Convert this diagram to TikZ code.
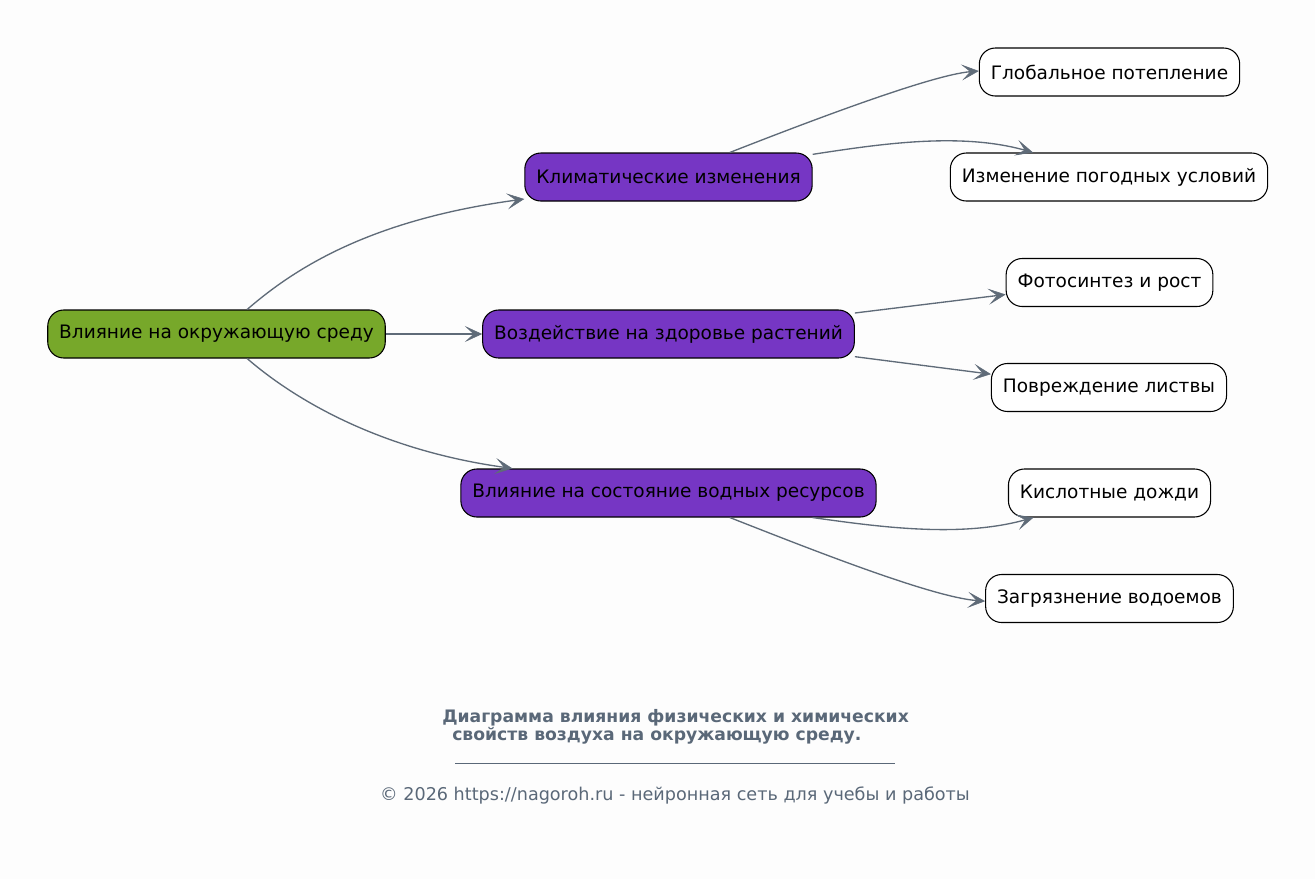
\documentclass[tikz,border=0pt]{standalone}
\usepackage{fontspec}
\setmainfont{DejaVu Sans}
\usetikzlibrary{arrows.meta,calc}
\definecolor{bg}{HTML}{FDFDFD}
\definecolor{rootc}{HTML}{77A82A}
\definecolor{midc}{HTML}{7636C4}
\definecolor{edgec}{HTML}{5F6B78}
\definecolor{titlec}{HTML}{5A6878}
\tikzset{myhead/.tip={Stealth[length=13pt,width=12pt,inset=6.5pt,line width=0.4pt]}}
\begin{document}
\begin{tikzpicture}[x=0.75pt,y=-0.75pt,
  box/.style={draw=black,line width=0.8pt,rounded corners=12pt,minimum height=36pt,inner xsep=8.6pt,font=\fontsize{13.9pt}{16pt}\selectfont,text=black},
  rootbox/.style={box,fill=rootc},
  midbox/.style={box,fill=midc},
  leafbox/.style={box,fill=white},
  conn/.style={draw=edgec,line width=1pt,-myhead}]
\fill[bg] (0,0) rectangle (1315,879);
\useasboundingbox (0,0) rectangle (1315,879);
\node[rootbox] (root) at (216.5,334) {Влияние на окружающую среду};
\node[midbox] (klim) at (668.5,177) {Климатические изменения};
\node[midbox] (vozd) at (668.5,334) {Воздействие на здоровье растений};
\node[midbox] (vod) at (668.5,493) {Влияние на состояние водных ресурсов};
\node[leafbox] (glob) at (1109.5,72) {Глобальное потепление};
\node[leafbox] (pogod) at (1109,177) {Изменение погодных условий};
\node[leafbox] (foto) at (1109.5,282.5) {Фотосинтез и рост};
\node[leafbox] (povr) at (1109,387.5) {Повреждение листвы};
\node[leafbox] (kisl) at (1109.5,493) {Кислотные дожди};
\node[leafbox] (zagr) at (1109.5,598.5) {Загрязнение водоемов};
% connectors
\draw[conn] ([xshift=23pt]root.north) .. controls (295,268) and (370,220) .. (klim.west |- 0,199);
\draw[conn] (root.east) -- (vozd.west);
\draw[conn] ([xshift=23pt]root.south) .. controls (295,400) and (380,450) .. ([xshift=-117pt]vod.north);
\draw[conn] ([xshift=46pt]klim.north) .. controls (800,125) and (930,75) .. ([yshift=0.75pt]glob.west);
\draw[conn] ([yshift=17pt]klim.east) .. controls (880,144) and (960,132) .. ([xshift=-57pt]pogod.north);
\draw[conn] ([yshift=15.75pt]vozd.east) -- ([yshift=-9pt]foto.west);
\draw[conn] ([yshift=-17pt]vozd.east) -- ([yshift=10pt]povr.west);
\draw[conn] ([xshift=108pt]vod.south) .. controls (880,527) and (960,538) .. ([xshift=-57pt]kisl.south);
\draw[conn] ([xshift=46pt]vod.south) .. controls (800,545) and (930,597) .. ([yshift=-2pt]zagr.west);
% caption
\node[font=\bfseries\fontsize{12.9pt}{14pt}\selectfont,text=titlec,anchor=west,inner xsep=0pt] (t1) at (442,718) {Диаграмма влияния физических и химических};
\node[font=\bfseries\fontsize{12.9pt}{14pt}\selectfont,text=titlec,anchor=west,inner xsep=0pt] (t2) at (452,736) {свойств воздуха на окружающую среду.};
\coordinate (r1) at (455,763);
\coordinate (r2) at (895,763);
\draw[titlec,line width=0.5pt] (r1) -- (r2);
\node[font=\fontsize{13.2pt}{15pt}\selectfont,text=titlec] (foot) at (675,795) {© 2026 https://nagoroh.ru - нейронная сеть для учебы и работы};
\end{tikzpicture}
\end{document}
